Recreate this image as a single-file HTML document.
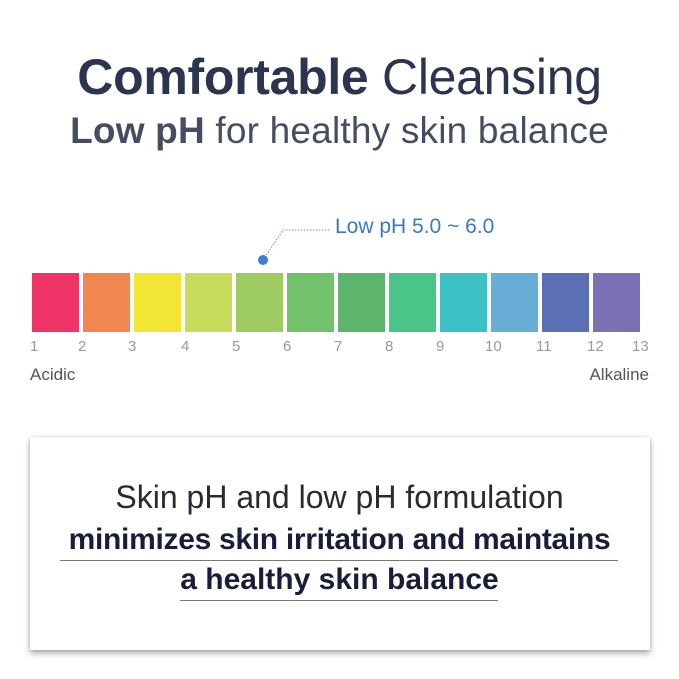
<!DOCTYPE html>
<html><head><style>
body{margin:0;width:679px;height:679px;background:#fff;position:relative;overflow:hidden;font-family:"Liberation Sans",sans-serif;}
.a{position:absolute;white-space:nowrap;}
.bar{position:absolute;top:273px;height:59px;width:47px;}
.n{position:absolute;top:338px;font-size:15px;color:#999;}
</style></head><body>
<div class="a" style="left:0;width:679px;text-align:center;top:48px;font-size:50px;color:#2b3550;letter-spacing:-0.3px;"><b>Comfortable</b> Cleansing</div>
<div class="a" style="left:0;width:679px;text-align:center;top:110px;font-size:37px;color:#454d60;letter-spacing:0.2px;"><b>Low pH</b> for healthy skin balance</div>
<svg class="a" style="left:0;top:0" width="679" height="300">
<polyline points="263,260 283,230 330,230" fill="none" stroke="#6a8fc4" stroke-width="1" stroke-dasharray="1.5,1.5"/>
<circle cx="263" cy="260" r="5" fill="#3b7ddd"/>
</svg>
<div class="a" style="left:335px;top:215px;font-size:21px;color:#3a78c8;">Low pH 5.0 ~ 6.0</div>
<div class="bar" style="left:32px;background:#ee3366"></div>
<div class="bar" style="left:83px;background:#f0874e"></div>
<div class="bar" style="left:134px;background:#f3e534"></div>
<div class="bar" style="left:185px;background:#c6dc5a"></div>
<div class="bar" style="left:236px;background:#9fcb63"></div>
<div class="bar" style="left:287px;background:#71c26b"></div>
<div class="bar" style="left:338px;background:#5cb56b"></div>
<div class="bar" style="left:389px;background:#4ac58a"></div>
<div class="bar" style="left:440px;background:#3cc1c4"></div>
<div class="bar" style="left:491px;background:#68add6"></div>
<div class="bar" style="left:542px;background:#5b6fb5"></div>
<div class="bar" style="left:593px;background:#7b72b6"></div>
<div class="n" style="left:30px">1</div><div class="n" style="left:78px">2</div><div class="n" style="left:128px">3</div>
<div class="n" style="left:181px">4</div><div class="n" style="left:232px">5</div><div class="n" style="left:283px">6</div>
<div class="n" style="left:334px">7</div><div class="n" style="left:385px">8</div><div class="n" style="left:436px">9</div>
<div class="n" style="left:485px">10</div><div class="n" style="left:536px">11</div><div class="n" style="left:587px">12</div>
<div class="n" style="left:632px">13</div>
<div class="a" style="left:30px;top:365px;font-size:17px;color:#555;">Acidic</div>
<div class="a" style="right:30px;top:365px;font-size:17px;color:#555;">Alkaline</div>
<div class="a" style="left:30px;top:437px;width:620px;height:213px;background:#fff;box-shadow:0 3px 6px rgba(0,0,0,0.35),0 0 3px rgba(0,0,0,0.12);"></div>
<div class="a" style="left:0;width:679px;text-align:center;top:479px;font-size:32px;color:#2a2a35;">Skin pH and low pH formulation</div>
<div class="a" style="left:0;width:679px;text-align:center;top:523px;font-size:30px;font-weight:bold;color:#1a1d3a;letter-spacing:-0.3px;">minimizes skin irritation and maintains</div>
<div class="a" style="left:60px;top:560px;width:558px;height:1px;background:#777;"></div>
<div class="a" style="left:0;width:679px;text-align:center;top:563px;font-size:30px;font-weight:bold;color:#1a1d3a;letter-spacing:0px;">a healthy skin balance</div>
<div class="a" style="left:180px;top:600px;width:318px;height:1px;background:#777;"></div>
</body></html>
